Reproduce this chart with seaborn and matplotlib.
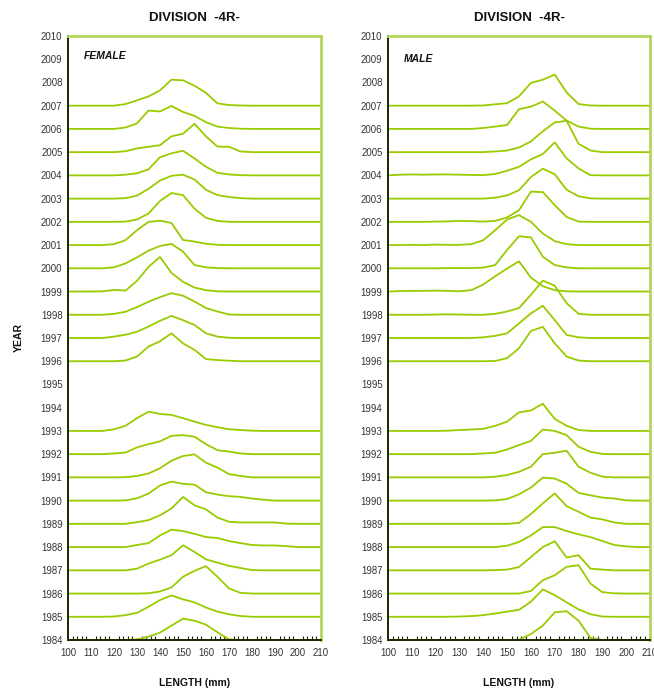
import numpy as np
import pandas as pd
import seaborn as sns
import matplotlib.pyplot as plt
from matplotlib.ticker import MultipleLocator

# length classes (mm) at which each curve is read
lengths = list(range(100, 215, 5))
years = list(range(1984, 2011))

# FEMALE: height of each year's curve above its baseline (in year units)
f1984 = [0, 0, 0, 0, 0, 0, 0.03, 0.14, 0.32, 0.62, 0.92, 0.83, 0.66, 0.33, 0.03, 0, 0, 0, 0, 0, 0, 0, 0]
f1985 = [0, 0, 0, 0, 0.01, 0.07, 0.17, 0.43, 0.72, 0.92, 0.75, 0.62, 0.40, 0.22, 0.11, 0.03, 0, 0, 0, 0, 0, 0, 0]
f1986 = [0, 0, 0, 0, 0, 0, 0, 0.01, 0.09, 0.26, 0.72, 0.98, 1.18, 0.72, 0.22, 0.03, 0, 0, 0, 0, 0, 0, 0]
f1987 = [0, 0, 0, 0, 0, 0, 0.07, 0.29, 0.46, 0.65, 1.08, 0.79, 0.47, 0.33, 0.19, 0.10, 0.01, 0, 0, 0, 0, 0, 0]
f1988 = [0, 0, 0, 0, 0, 0, 0.09, 0.17, 0.50, 0.75, 0.69, 0.57, 0.43, 0.39, 0.26, 0.17, 0.09, 0.07, 0.07, 0.04, 0, 0, 0]
f1989 = [0, 0, 0, 0, 0, 0, 0.07, 0.16, 0.37, 0.66, 1.16, 0.80, 0.62, 0.27, 0.09, 0.06, 0.06, 0.06, 0.06, 0.01, 0, 0, 0]
f1990 = [0, 0, 0, 0, 0, 0.01, 0.10, 0.30, 0.65, 0.82, 0.72, 0.69, 0.36, 0.26, 0.19, 0.16, 0.09, 0.04, 0, 0, 0, 0, 0]
f1991 = [0, 0, 0, 0, 0, 0.01, 0.06, 0.17, 0.39, 0.72, 0.92, 0.99, 0.63, 0.42, 0.14, 0.06, 0, 0, 0, 0, 0, 0, 0]
f1992 = [0, 0, 0, 0, 0.03, 0.07, 0.29, 0.43, 0.55, 0.79, 0.82, 0.75, 0.43, 0.17, 0.11, 0.03, 0, 0, 0, 0, 0, 0, 0]
f1993 = [0, 0, 0, 0, 0.07, 0.22, 0.55, 0.83, 0.73, 0.69, 0.55, 0.40, 0.26, 0.16, 0.07, 0.04, 0.01, 0, 0, 0, 0, 0, 0]
f1996 = [0, 0, 0, 0, 0, 0.03, 0.20, 0.63, 0.86, 1.20, 0.77, 0.49, 0.09, 0.05, 0.02, 0, 0, 0, 0, 0, 0, 0, 0]
f1997 = [0, 0, 0, 0, 0.06, 0.14, 0.27, 0.49, 0.74, 0.95, 0.77, 0.56, 0.20, 0.06, 0.01, 0, 0, 0, 0, 0, 0, 0, 0]
f1998 = [0, 0, 0, 0, 0.04, 0.13, 0.33, 0.56, 0.76, 0.93, 0.82, 0.57, 0.29, 0.14, 0.01, 0, 0, 0, 0, 0, 0, 0, 0]
f1999 = [0, 0, 0, 0.01, 0.07, 0.04, 0.46, 1.06, 1.49, 0.80, 0.42, 0.17, 0.06, 0.01, 0, 0, 0, 0, 0, 0, 0, 0, 0]
f2000 = [0, 0, 0, 0, 0.04, 0.21, 0.47, 0.76, 0.96, 1.05, 0.72, 0.14, 0.04, 0.01, 0, 0, 0, 0, 0, 0, 0, 0, 0]
f2001 = [0, 0, 0, 0, 0.04, 0.21, 0.64, 1.00, 1.05, 0.95, 0.22, 0.15, 0.06, 0.01, 0, 0, 0, 0, 0, 0, 0, 0, 0]
f2002 = [0, 0, 0, 0, 0, 0.01, 0.10, 0.36, 0.90, 1.24, 1.15, 0.57, 0.17, 0.04, 0, 0, 0, 0, 0, 0, 0, 0, 0]
f2003 = [0, 0, 0, 0, 0, 0.02, 0.13, 0.42, 0.78, 0.98, 1.03, 0.82, 0.38, 0.15, 0.07, 0.02, 0, 0, 0, 0, 0, 0, 0]
f2004 = [0, 0, 0, 0, 0, 0.03, 0.09, 0.26, 0.78, 0.95, 1.06, 0.73, 0.37, 0.11, 0.04, 0.01, 0, 0, 0, 0, 0, 0, 0]
f2005 = [0, 0, 0, 0, 0, 0.04, 0.16, 0.23, 0.30, 0.68, 0.79, 1.22, 0.68, 0.24, 0.23, 0.03, 0, 0, 0, 0, 0, 0, 0]
f2006 = [0, 0, 0, 0, 0, 0.06, 0.24, 0.79, 0.75, 0.99, 0.73, 0.56, 0.29, 0.10, 0.04, 0.01, 0, 0, 0, 0, 0, 0, 0]
f2007 = [0, 0, 0, 0, 0, 0.07, 0.23, 0.40, 0.66, 1.12, 1.09, 0.86, 0.55, 0.10, 0.03, 0.01, 0, 0, 0, 0, 0, 0, 0]

# MALE
m1984 = [0, 0, 0, 0, 0, 0, 0, 0, 0, 0, 0, 0.01, 0.26, 0.62, 1.19, 1.24, 0.83, 0.09, 0, 0, 0, 0, 0]
m1985 = [0, 0, 0, 0, 0, 0, 0.01, 0.03, 0.07, 0.14, 0.22, 0.30, 0.65, 1.18, 0.93, 0.62, 0.32, 0.11, 0.01, 0, 0, 0, 0]
m1986 = [0, 0, 0, 0, 0, 0, 0, 0, 0, 0, 0, 0, 0.11, 0.57, 0.79, 1.15, 1.22, 0.43, 0.06, 0.01, 0, 0, 0]
m1987 = [0, 0, 0, 0, 0, 0, 0, 0, 0, 0.01, 0.03, 0.14, 0.57, 1.00, 1.25, 0.55, 0.65, 0.07, 0.03, 0, 0, 0, 0]
m1988 = [0, 0, 0, 0, 0, 0, 0, 0, 0, 0, 0.06, 0.22, 0.50, 0.86, 0.86, 0.69, 0.55, 0.43, 0.26, 0.09, 0.03, 0, 0]
m1989 = [0, 0, 0, 0, 0, 0, 0, 0, 0, 0, 0, 0.04, 0.42, 0.88, 1.31, 0.76, 0.52, 0.27, 0.19, 0.06, 0, 0, 0]
m1990 = [0, 0, 0, 0, 0, 0, 0, 0, 0, 0.01, 0.07, 0.27, 0.56, 0.99, 0.95, 0.73, 0.33, 0.23, 0.13, 0.09, 0.01, 0, 0]
m1991 = [0, 0, 0, 0, 0, 0, 0, 0, 0, 0.03, 0.10, 0.24, 0.46, 1.00, 1.06, 1.15, 0.46, 0.20, 0.03, 0, 0, 0, 0]
m1992 = [0, 0, 0, 0, 0, 0, 0, 0, 0.03, 0.06, 0.20, 0.39, 0.57, 1.06, 1.00, 0.82, 0.32, 0.10, 0.01, 0, 0, 0, 0]
m1993 = [0, 0, 0, 0, 0, 0.01, 0.04, 0.06, 0.09, 0.22, 0.40, 0.80, 0.88, 1.17, 0.52, 0.22, 0.04, 0, 0, 0, 0, 0, 0]
m1996 = [0, 0, 0, 0, 0, 0, 0, 0, 0, 0.01, 0.13, 0.56, 1.30, 1.48, 0.77, 0.20, 0.03, 0, 0, 0, 0, 0, 0]
m1997 = [0, 0, 0, 0, 0, 0, 0, 0, 0.03, 0.09, 0.20, 0.63, 1.06, 1.39, 0.77, 0.13, 0.03, 0, 0, 0, 0, 0, 0]
m1998 = [0, 0, 0, 0, 0.01, 0.02, 0.01, 0, 0, 0.04, 0.14, 0.29, 0.86, 1.47, 1.25, 0.50, 0.04, 0, 0, 0, 0, 0, 0]
m1999 = [0, 0.02, 0.03, 0.03, 0.04, 0.03, 0.01, 0.06, 0.30, 0.66, 0.99, 1.30, 0.60, 0.23, 0.06, 0.01, 0, 0, 0, 0, 0, 0, 0]
m2000 = [0, 0, 0, 0, 0, 0.01, 0.01, 0.01, 0.03, 0.14, 0.79, 1.38, 1.33, 0.50, 0.14, 0.04, 0, 0, 0, 0, 0, 0, 0]
m2001 = [0, 0, 0.01, 0, 0.02, 0.01, 0.01, 0.04, 0.21, 0.64, 1.10, 1.29, 1.00, 0.50, 0.17, 0.04, 0, 0, 0, 0, 0, 0, 0]
m2002 = [0, 0, 0, 0, 0.01, 0.02, 0.04, 0.03, 0.01, 0.04, 0.19, 0.50, 1.30, 1.28, 0.72, 0.21, 0.01, 0, 0, 0, 0, 0, 0]
m2003 = [0, 0, 0, 0, 0, 0, 0, 0, 0, 0.04, 0.14, 0.36, 0.93, 1.29, 1.05, 0.38, 0.10, 0.01, 0, 0, 0, 0, 0]
m2004 = [0, 0.03, 0.04, 0.03, 0.04, 0.04, 0.03, 0.02, 0.01, 0.06, 0.20, 0.37, 0.69, 0.92, 1.42, 0.73, 0.30, 0.01, 0, 0, 0, 0, 0]
m2005 = [0, 0, 0, 0, 0, 0, 0, 0, 0, 0.03, 0.07, 0.20, 0.46, 0.90, 1.28, 1.35, 0.36, 0.07, 0, 0, 0, 0, 0]
m2006 = [0, 0, 0, 0, 0, 0, 0, 0, 0.04, 0.10, 0.17, 0.85, 0.96, 1.18, 0.79, 0.36, 0.10, 0.01, 0, 0, 0, 0, 0]
m2007 = [0, 0, 0, 0, 0, 0, 0, 0, 0.01, 0.06, 0.11, 0.40, 0.98, 1.12, 1.34, 0.57, 0.07, 0.01, 0, 0, 0, 0, 0]

female = [(1984, f1984), (1985, f1985), (1986, f1986), (1987, f1987), (1988, f1988),
          (1989, f1989), (1990, f1990), (1991, f1991), (1992, f1992), (1993, f1993),
          (1996, f1996), (1997, f1997), (1998, f1998), (1999, f1999), (2000, f2000),
          (2001, f2001), (2002, f2002), (2003, f2003), (2004, f2004), (2005, f2005),
          (2006, f2006), (2007, f2007)]
male = [(1984, m1984), (1985, m1985), (1986, m1986), (1987, m1987), (1988, m1988),
        (1989, m1989), (1990, m1990), (1991, m1991), (1992, m1992), (1993, m1993),
        (1996, m1996), (1997, m1997), (1998, m1998), (1999, m1999), (2000, m2000),
        (2001, m2001), (2002, m2002), (2003, m2003), (2004, m2004), (2005, m2005),
        (2006, m2006), (2007, m2007)]


def to_frame(series):
    rows = []
    for yr, h in series:
        for x, v in zip(lengths, h):
            rows.append({"length": x, "year": yr, "level": yr + v})
    return pd.DataFrame(rows)


sns.set_style("white")
plt.rcParams["font.family"] = ["Liberation Sans", "DejaVu Sans"]

GREEN = "#99cc00"
FRAME_GREEN = "#b2d65a"
DARK = "#1c2400"
TXT = "#333333"

fig = plt.figure(figsize=(6.54, 6.91), dpi=100)
ax_f = fig.add_axes([68 / 654, 51 / 691, 253 / 654, 604 / 691])
ax_m = fig.add_axes([388 / 654, 51 / 691, 262 / 654, 604 / 691])

for ax, data, label, lab_y in [(ax_f, female, "FEMALE", 2009.15), (ax_m, male, "MALE", 2009.0)]:
    df = to_frame(data)
    sns.lineplot(data=df, x="length", y="level", units="year", estimator=None,
                 color=GREEN, lw=1.3, legend=False, ax=ax)
    for ln in ax.lines:
        ln.set_clip_on(False)
        ln.set_solid_joinstyle("round")

    ax.set_xlim(100, 210)
    ax.set_ylim(1984, 2010)
    ax.set_xticks(range(100, 211, 10))
    ax.xaxis.set_minor_locator(MultipleLocator(2))
    ax.set_yticks(years)
    ax.tick_params(axis="y", which="major", direction="inout", length=6, width=1,
                   color=DARK, labelsize=6.9, labelcolor=TXT, pad=1)
    ax.tick_params(axis="x", which="major", direction="inout", length=6, width=1,
                   color=DARK, labelsize=6.9, labelcolor=TXT, pad=3)
    ax.tick_params(axis="x", which="minor", direction="in", length=3, width=0.8,
                   color=DARK, bottom=True)

    for side in ["top", "right"]:
        ax.spines[side].set_visible(True)
        ax.spines[side].set_color(FRAME_GREEN)
        ax.spines[side].set_linewidth(2)
    for side in ["left", "bottom"]:
        ax.spines[side].set_color(DARK)
        ax.spines[side].set_linewidth(1.4)

    ax.set_title("DIVISION  -4R-", fontsize=9.5, fontweight="bold", color="#111111", pad=11)
    ax.set_xlabel("LENGTH (mm)", fontsize=7.5, fontweight="bold", color="#111111", labelpad=14)
    ax.set_ylabel("")
    ax.text(106.8, lab_y, label, fontsize=7.5, fontweight="bold", fontstyle="italic",
            color="#111111", va="center", ha="left")

ax_f.set_ylabel("YEAR", fontsize=7.5, fontweight="bold", color="#111111", labelpad=12)

fig.savefig("out.png", dpi=100)
